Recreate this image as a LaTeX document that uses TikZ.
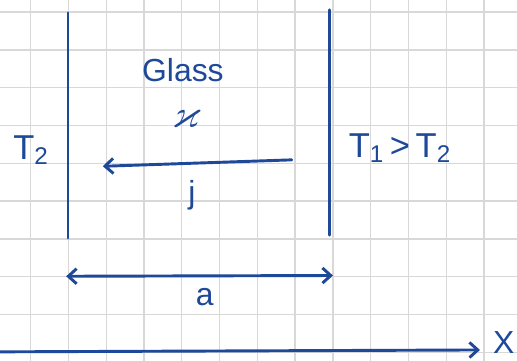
\documentclass[tikz,border=0pt]{standalone}
\usepackage{amsmath,amssymb}
\usepackage{fontspec}
\setmainfont{Liberation Sans}
\usepackage{tikz}
\usetikzlibrary{arrows.meta}
\definecolor{ink}{RGB}{30,72,152}
\definecolor{paper}{RGB}{216,216,216}
\newcommand{\wall}[3]{\draw[inkline] (#1,#2) -- (#1,#3);}
\tikzset{
  inkline/.style={ink, line width=2.2pt, line cap=round},
  barb/.style={-{Straight Barb[length=2.2mm,width=4mm]}},
  label/.style={ink, inner sep=0pt, font=\fontsize{24}{28}\selectfont},
  gridline/.style={paper, line width=1pt}
}

\begin{document}
\begin{tikzpicture}
        \useasboundingbox (0,0) rectangle (13.68,9.55);
        % grid paper
        \foreach \i in {0,...,12} \draw[gridline] (0.81+\i,0) -- (0.81+\i,9.55);
        \foreach \j in {0,...,9} \draw[gridline] (0,0.23+\j) -- (13.68,0.23+\j);
        % walls
        \wall{1.80}{9.21}{3.25}
        \wall{8.73}{9.29}{3.33}
        % labels
        \node[label] (glass) at (4.84,7.70) {Glass};
        \node[label, font=\fontsize{30}{34}\selectfont] (kappa) at (4.95,6.40) {$\varkappa$};
        \node[label, font=\fontsize{26}{30}\selectfont] (cold) at (0.82,5.58) {T\textsubscript{2}};
        \node[label, font=\fontsize{26}{30}\selectfont] (hot) at (10.58,5.63) {T\textsubscript{1}\,>\,T\textsubscript{2}};
        \node[label] (flux) at (5.08,4.39) {j};
        \node[label] (width) at (5.42,1.68) {a};
        \node[label] (xlab) at (13.33,0.49) {X};
        % flux arrow
        \coordinate (fs) at (7.72,5.32);
        \coordinate (fe) at (2.72,5.15);
        \draw[inkline, barb] (fs) -- (fe);
        % thickness
        \coordinate (al) at (1.75,2.24);
        \coordinate (ar) at (8.81,2.26);
        \draw[inkline, {Straight Barb[length=2.2mm,width=4mm]}-{Straight Barb[length=2.2mm,width=4mm]}] (al) -- (ar);
        % x axis
        \coordinate (x0) at (0,0.24);
        \coordinate (x1) at (12.70,0.29);
        \draw[inkline, barb] (x0) -- (x1);
\end{tikzpicture}
\end{document}
